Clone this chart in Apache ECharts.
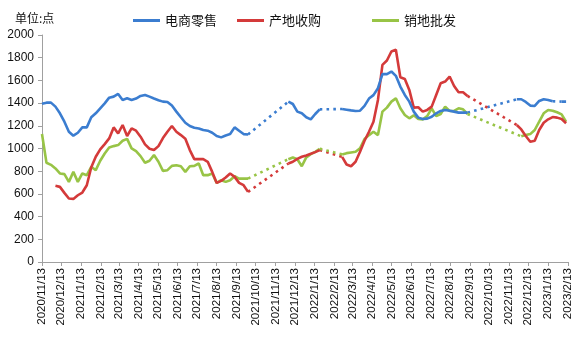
<!DOCTYPE html>
<html>
<head>
<meta charset="utf-8">
<script src="https://cdn.jsdelivr.net/npm/echarts@6/dist/echarts.min.js"></script>
<style>html,body{margin:0;padding:0;background:#fff;}#c{width:576px;height:344px;}</style>
</head>
<body>
<div id="c"></div>
<script>
// ---- data ----
const seriesNames = ['电商零售', '产地收购', '销地批发'];
const startDate = [2020, 10, 13];   // weekly observations from 2020/11/13
const weekCount = 118;
const tickLabels = ['2020/11/13','2020/12/13','2021/1/13','2021/2/13','2021/3/13','2021/4/13','2021/5/13','2021/6/13','2021/7/13','2021/8/13','2021/9/13','2021/10/13','2021/11/13','2021/12/13','2022/1/13','2022/2/13','2022/3/13','2022/4/13','2022/5/13','2022/6/13','2022/7/13','2022/8/13','2022/9/13','2022/10/13','2022/11/13','2022/12/13','2023/1/13','2023/2/13'];
const N = null;
const retail = [1395,1404,1404,1369,1310,1236,1148,1113,1139,1186,
 1186,1275,1310,1354,1398,1448,1457,1481,1428,1442,
 1428,1440,1463,1472,1457,1440,1425,1413,1410,1378,
 1325,1275,1227,1198,1183,1177,1163,1157,1139,1110,
 1098,1115,1127,1186,1157,1127,1124,
 N,N,N,N,N,N,N,N,
 1413,1392,1325,1310,1275,1257,1304,1345,
 N,N,N,N,
 1348,1342,1336,
 1331,1333,1375,1440,1470,1531,1655,1655,1678,1640,
 1546,1472,1413,1325,1272,1260,1263,1280,1310,1331,
 1340,1333,1325,1316,1316,1316,
 N,N,N,N,N,N,N,N,N,N,
 1434,1434,1410,1378,
 1375,1419,1434,1428,1416,N,1413,1413];
const origin = [N,N,N,671,662,609,559,556,588,612,
 676,835,927,992,1039,1089,1186,1133,1207,1110,
 1177,1157,1104,1036,998,986,1021,1092,1148,1198,
 1148,1118,1086,986,906,906,906,883,794,697,
 715,744,780,750,697,677,618,
 N,N,N,N,N,N,N,N,
 868,883,909,927,939,953,968,986,
 N,N,N,N,
 927,859,844,
 883,971,1068,1148,1236,1428,1737,1775,1855,1870,
 1628,1613,1516,1360,1363,1325,1340,1369,1472,1575,
 1590,1634,1551,1496,1496,1463,
 N,N,N,N,N,N,N,N,N,N,
 1207,1168,1110,1059,
 1068,1163,1227,1257,1277,1272,1260,1222];
const wholesale = [1128,874,856,824,780,774,706,794,706,780,
 765,839,809,892,956,1009,1021,1030,1068,1085,
 1001,977,933,874,892,942,883,803,809,847,
 853,844,794,844,847,868,765,765,780,697,
 721,706,721,756,735,735,735,
 N,N,N,N,N,N,N,N,
 906,921,905,844,921,950,971,998,
 N,N,N,N,
 948,959,965,
 971,1001,1083,1118,1148,1118,1325,1360,1413,1442,
 1354,1295,1266,1292,1260,1257,1286,1354,1286,1304,
 1369,1331,1331,1354,1345,1304,
 N,N,N,N,N,N,N,N,N,N,N,
 1107,1118,1127,
 1163,1236,1310,1340,1333,1319,1301,1236];
const colors = ['#3b7dd0', '#d43a3a', '#98c446'];

// ---- build ----
const DAY = 86400000;
const t0 = new Date(startDate[0], startDate[1], startDate[2]).getTime();
const weeks = [];
for (let i = 0; i < weekCount; i++) weeks.push(Math.round((new Date(startDate[0], startDate[1], startDate[2] + 7 * i).getTime() - t0) / DAY));
function parseD(s){ const p = s.split('/').map(Number); return Math.round((new Date(p[0], p[1]-1, p[2]).getTime() - t0) / DAY); }
const tickVals = tickLabels.map(parseD);
const labelOf = {}; tickVals.forEach((v, i) => labelOf[v] = tickLabels[i]);

const allVals = [retail, origin, wholesale];
const series = [];
allVals.forEach((vals, k) => {
  series.push({
    name: seriesNames[k], type: 'line', showSymbol: false, symbol: 'none',
    data: weeks.map((t, i) => [t, vals[i] == null ? '-' : vals[i]]),
    lineStyle: { color: colors[k], width: 2.6 }, itemStyle: { color: colors[k] },
    connectNulls: false, z: 5 - k
  });
});
// dotted connectors across gaps
allVals.forEach((vals, k) => {
  for (let i = 1; i < vals.length; i++) {
    if (vals[i] == null && vals[i-1] != null) {
      let j = i; while (j < vals.length && vals[j] == null) j++;
      if (j < vals.length) {
        series.push({
          type: 'line', showSymbol: false, symbol: 'none', silent: true,
          data: [[weeks[i-1], vals[i-1]], [weeks[j], vals[j]]],
          lineStyle: { color: colors[k], width: 2.6, type: [2.6, 4.2], cap: 'butt' },
          itemStyle: { color: colors[k] }, z: 2
        });
      }
      i = j;
    }
  }
});

const legendX = [128, 232, 367];
const legends = seriesNames.map((n, k) => ({
  data: [n], left: legendX[k], top: 9, icon: 'rect', itemWidth: 27, itemHeight: 3,
  textStyle: { fontSize: 13, color: '#111', fontFamily: 'Noto Sans CJK SC' }
}));

const chart = echarts.init(document.getElementById('c'), null, { renderer: 'canvas' });
chart.setOption({
  animation: false,
  backgroundColor: '#fff',
  title: { text: '单位:点', left: 10, top: 7, textStyle: { fontSize: 12, fontWeight: 'normal', color: '#111', fontFamily: 'Noto Sans CJK SC' } },
  legend: legends,
  grid: { left: 42, right: 8, top: 35, bottom: 82 },
  xAxis: {
    type: 'value', min: 0, max: tickVals[tickVals.length - 1],
    axisLine: { onZero: false, lineStyle: { color: '#a0a0a0', width: 1 } },
    axisTick: { show: true, length: 4, customValues: tickVals, lineStyle: { color: '#a0a0a0' } },
    axisLabel: { customValues: tickVals, formatter: v => labelOf[v] || '', rotate: 90, margin: 6, fontSize: 11.5, color: '#111', fontFamily: 'Liberation Sans', hideOverlap: false },
    splitLine: { show: false }
  },
  yAxis: {
    type: 'value', min: 0, max: 2000, interval: 200,
    axisLine: { show: true, lineStyle: { color: '#a0a0a0', width: 1 } },
    axisTick: { show: true, length: 4, lineStyle: { color: '#a0a0a0' } },
    axisLabel: { fontSize: 12, color: '#111', margin: 8, fontFamily: 'Liberation Sans', formatter: v => String(v) },
    splitLine: { show: false }
  },
  series: series
});
</script>
</body>
</html>
